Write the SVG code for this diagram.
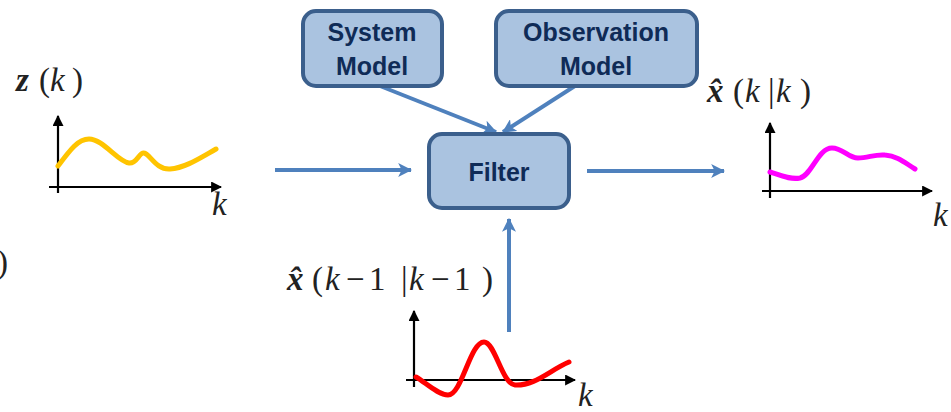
<svg xmlns="http://www.w3.org/2000/svg" width="951" height="412" viewBox="0 0 951 412">
<defs>
<style>
.box{fill:#AAC3E0;stroke:#3B5F8C;stroke-width:4}
.lbl{font-family:"Liberation Sans",Arial,sans-serif;font-weight:bold;font-size:25px;fill:#0F2B57;text-anchor:middle}
.conn{stroke:#4F81BD;stroke-width:4;fill:none}
.axis{stroke:#000;stroke-width:2.2;fill:none}
.math{font-family:"Liberation Serif","Times New Roman",serif;font-style:italic;font-size:33px;fill:#222}
.up{font-style:normal;font-weight:normal}
.bd{font-weight:bold}
.curve{fill:none;stroke-width:5;stroke-linecap:round;stroke-linejoin:round}
</style>
<marker id="ba" viewBox="0 0 12 12" refX="11" refY="6" markerWidth="14" markerHeight="14" markerUnits="userSpaceOnUse" orient="auto">
<path d="M0,0 L12,6 L0,12 L3,6 z" fill="#4F81BD"/>
</marker>
<marker id="ka" viewBox="0 0 10 10" refX="9" refY="5" markerWidth="11" markerHeight="11" markerUnits="userSpaceOnUse" orient="auto">
<path d="M0,0 L10,5 L0,10 z" fill="#000"/>
</marker>
</defs>
<rect width="951" height="412" fill="#fff"/>

<g id="connectors">
<line class="conn" x1="275" y1="170" x2="411" y2="170" marker-end="url(#ba)"/>
<line class="conn" x1="587" y1="171" x2="724" y2="171" marker-end="url(#ba)"/>
<line class="conn" x1="375" y1="84" x2="496" y2="132" marker-end="url(#ba)"/>
<line class="conn" x1="578" y1="84" x2="503" y2="132" marker-end="url(#ba)"/>
<line class="conn" x1="509" y1="332" x2="509" y2="219" marker-end="url(#ba)"/>
</g>

<g id="system-model">
<rect class="box" x="303" y="11" width="139" height="75" rx="13"/>
<text class="lbl" x="372" y="41">System</text>
<text class="lbl" x="372" y="75">Model</text>
</g>
<g id="observation-model">
<rect class="box" x="496" y="11" width="201" height="75" rx="13"/>
<text class="lbl" x="596" y="41">Observation</text>
<text class="lbl" x="596" y="75">Model</text>
</g>
<g id="filter">
<rect class="box" x="429" y="134" width="140" height="74" rx="13"/>
<text class="lbl" x="499" y="181">Filter</text>
</g>

<g id="measurement-plot">
<text class="math" y="91"><tspan class="bd" x="16">z</tspan><tspan class="up" x="39">(</tspan><tspan x="50">k</tspan><tspan class="up" x="72">)</tspan></text>
<line class="axis" x1="58" y1="193" x2="58" y2="116" marker-end="url(#ka)"/>
<line class="axis" x1="49" y1="187" x2="221" y2="187" marker-end="url(#ka)"/>
<path class="curve" stroke="#FFC400" d="M58,166 C70,150 78,139 89,139 C103,139 118,162 129,163 C137,164 139,152 144,153 C150,154 156,170 170,169 C185,168 200,158 216,149"/>
<text class="math" x="212" y="215" font-size="35">k</text>
</g>

<g id="posterior-plot">
<text class="math" y="102"><tspan class="bd" x="707">x̂</tspan><tspan class="up" x="733">(</tspan><tspan x="745">k</tspan><tspan class="up" x="768">|</tspan><tspan x="776">k</tspan><tspan class="up" x="800">)</tspan></text>
<line class="axis" x1="770" y1="198" x2="770" y2="123" marker-end="url(#ka)"/>
<line class="axis" x1="762" y1="191" x2="932" y2="191" marker-end="url(#ka)"/>
<path class="curve" stroke="#FF00FF" d="M770,172 C780,175 790,180 800,178 C812,175 818,148 832,148 C843,148 848,158 858,158 C868,158 875,154 885,155 C898,156 905,163 915,169"/>
<text class="math" x="933" y="226" font-size="35">k</text>
</g>

<g id="prior-plot">
<text class="math" y="290"><tspan class="bd" x="287">x̂</tspan><tspan class="up" x="312">(</tspan><tspan x="325">k</tspan><tspan class="up" x="346">−</tspan><tspan class="up" x="369">1</tspan><tspan class="up" x="401">|</tspan><tspan x="409">k</tspan><tspan class="up" x="431">−</tspan><tspan class="up" x="454">1</tspan><tspan class="up" x="482">)</tspan></text>
<line class="axis" x1="414" y1="387" x2="414" y2="311" marker-end="url(#ka)"/>
<line class="axis" x1="406" y1="380" x2="575" y2="380" marker-end="url(#ka)"/>
<path class="curve" stroke="#FF0000" d="M416,377 C425,382 438,395 448,395 C462,395 470,342 484,342 C495,342 502,384 515,385 C535,386 550,370 569,362"/>
<text class="math" x="578" y="406" font-size="35">k</text>
</g>

<text class="math up" x="-3" y="273" font-size="34">)</text>
</svg>
